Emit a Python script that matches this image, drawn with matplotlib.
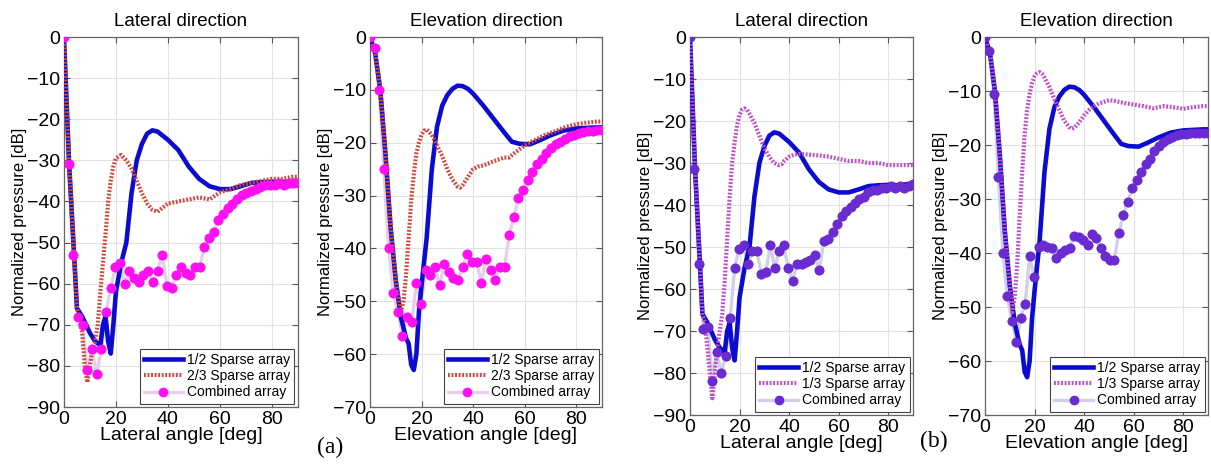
import matplotlib

matplotlib.use("Agg")

import matplotlib.pyplot as plt

# lateral 1/2 sparse array (same curve in (a) and (b))
HALF_LAT_ANGLE = [0, 2, 4, 5, 7, 10, 12, 14, 15, 16, 17, 18, 19, 20, 22, 24, 26, 28, 30, 32, 34, 36,
                  38, 40, 44, 48, 52, 56, 60, 64, 68, 72, 76, 80, 84, 88, 90]
HALF_LAT = [0, -31, -54, -66, -68, -72, -74, -75, -70, -68, -74, -77, -70, -62, -55, -50, -38, -30,
            -26, -23.5, -22.7, -23, -24, -25, -27.5, -31.5, -34.5, -36.3, -37, -37, -36.3, -35.5,
            -35.3, -35.2, -35.3, -35, -35]

# lateral 2/3 sparse array (a)
TWO_LAT_ANGLE = [0, 2, 4, 5, 7, 8, 9, 10, 11, 12, 13, 14, 15, 16, 17, 18, 19, 20, 22, 24, 26, 28,
                 30, 32, 34, 36, 38, 40, 44, 48, 52, 56, 60, 64, 68, 72, 76, 80, 84, 88, 90]
TWO_LAT = [0, -31, -54, -66, -72, -80, -84, -80, -76, -74, -70, -62, -55, -48, -40, -35, -31.5,
           -29.5, -28.7, -30, -32, -35, -38, -40.5, -42, -42.5, -41.5, -40.5, -40, -39.5, -39,
           -39.5, -37.8, -37, -36, -35.5, -35, -34.5, -34.5, -34, -34]

# lateral 1/3 sparse array (b)
THIRD_LAT_ANGLE = [0, 2, 4, 5, 6, 7, 8, 9, 10, 11, 12, 13, 14, 15, 16, 17, 18, 19, 20, 21, 22, 23,
                   24, 26, 28, 30, 32, 34, 36, 37, 38, 40, 42, 44, 48, 52, 56, 60, 64, 68, 72, 76,
                   80, 84, 88, 90]
THIRD_LAT = [0, -31, -54, -66, -68, -74, -80, -86, -80, -74, -70, -66, -58, -48, -38, -30, -25,
             -21, -18.5, -17.3, -17, -17.3, -18.3, -20.5, -23.5, -26.5, -28.5, -30, -30.5, -30.3,
             -29.5, -28.5, -28, -27.8, -28, -28.2, -28.5, -29, -29.5, -29.5, -30, -30, -30.5,
             -30.5, -30.5, -30.5]

# elevation 1/2 sparse array (same curve in (a) and (b))
HALF_ELE_ANGLE = [0, 2, 4, 6, 8, 10, 12, 14, 15, 16, 17, 18, 19, 20, 22, 24, 26, 28, 30, 32, 34,
                  36, 38, 40, 44, 48, 52, 55, 58, 62, 66, 70, 75, 80, 84, 88, 90]
HALF_ELE = [0, -3, -10, -22, -36, -46, -53, -57, -58, -62, -63, -60, -52, -47, -38, -25, -17, -13,
            -11, -9.8, -9.2, -9.3, -9.8, -10.7, -13, -15.5, -18, -19.8, -20.2, -20.3, -19.5,
            -18.6, -17.7, -17.3, -17.2, -17.1, -17.1]

# elevation 2/3 sparse array (a)
TWO_ELE_ANGLE = [0, 2, 4, 6, 8, 10, 12, 13, 14, 15, 16, 17, 18, 19, 20, 21, 22, 24, 26, 28, 30,
                 32, 34, 35, 36, 38, 40, 42, 44, 48, 52, 54, 56, 60, 64, 68, 72, 76, 80, 84, 88, 90]
TWO_ELE = [0, -3, -10, -22, -36, -46, -52, -50, -45, -38, -31, -26, -22, -20, -18.5, -17.7, -17.5,
           -18.5, -20.5, -22.5, -25, -27, -28.3, -28.5, -28, -26.5, -25, -24.5, -24.3, -23.5,
           -22.8, -22.8, -22, -20.5, -19.5, -18.5, -17.8, -17, -16.5, -16.2, -16, -16]

# elevation 1/3 sparse array (b)
THIRD_ELE_ANGLE = [0, 2, 4, 6, 8, 10, 11, 12, 13, 14, 15, 16, 17, 18, 19, 20, 21, 22, 23, 24, 26,
                   28, 30, 32, 34, 35, 36, 38, 40, 42, 44, 46, 48, 50, 52, 56, 60, 64, 68, 72, 76,
                   80, 84, 88, 90]
THIRD_ELE = [0, -3, -10, -22, -36, -46, -51, -48, -42, -33, -25, -18, -13.5, -10.5, -8.5, -7.3,
             -6.7, -6.5, -6.8, -7.5, -9.3, -11.5, -13.5, -15.5, -16.7, -17, -16.8, -15.8, -14.5,
             -13.5, -12.8, -12.3, -12, -11.7, -11.8, -12.2, -12.5, -12.8, -13.2, -12.8, -13,
             -13.3, -13, -12.8, -12.8]

# combined array, sampled on a coarser angle grid
COMB_ANGLE = [0, 1.8, 3.6, 5.4, 7.2, 9, 10.8, 12.6, 14.4, 16.2, 18, 19.8, 21.6, 23.4, 25.2, 27,
              28.8, 30.6, 32.4, 34.2, 36, 37.8, 39.6, 41.4, 43.2, 45, 46.8, 48.6, 50.4, 52.2, 54,
              55.8, 57.6, 59.4, 61.2, 63, 64.8, 66.6, 68.4, 70.2, 72, 73.8, 75.6, 77.4, 79.2, 81,
              82.8, 84.6, 86.4, 88.2, 90]
COMB_LAT_A = [0, -31, -53, -68, -70, -81, -76, -82, -76, -67, -61, -56, -55, -60, -57, -58.5,
              -59.5, -58, -57, -59.5, -57, -53, -60.5, -61, -58, -56, -57.5, -58, -56, -56, -51,
              -49, -47.5, -44.5, -43, -41.5, -40.5, -39.5, -38.5, -38, -37.5, -37, -36.5, -36,
              -36, -36, -35.5, -36, -35.5, -35.5, -35.5]
COMB_ELE_A = [0, -2, -10, -25, -40, -48.5, -52, -56.5, -53, -54, -46.5, -50.5, -44, -45, -43.5,
              -47, -43, -44.5, -45.5, -46, -43.5, -41, -42.5, -42.5, -46.5, -42, -44, -46, -43.5,
              -43.5, -37.5, -34, -30.5, -29, -27, -25.5, -24, -23, -22, -21, -20.3, -19.8, -19.3,
              -18.8, -18.5, -18.2, -18, -17.8, -17.7, -17.6, -17.5]
COMB_LAT_B = [0, -31.5, -54, -69.5, -69, -82, -75, -80, -76, -67, -55, -50.5, -49.5, -54, -51,
              -51, -56.5, -56, -49.5, -55, -51, -49.5, -55, -58, -54, -54, -53.5, -53, -52, -55.5,
              -48.5, -48, -46.5, -44.5, -42.5, -41.5, -40.5, -39.5, -38.5, -38, -37, -36.5,
              -36.5, -36, -36, -35.5, -36, -35.5, -36, -35.5, -35]
COMB_ELE_B = [0, -2.5, -10.5, -26, -40, -48, -52.5, -56.5, -52, -49.5, -40.5, -44.5, -38.8, -38.5,
              -38.8, -39, -41, -40, -39.5, -39, -36.8, -37, -37.6, -38.5, -36.5, -37.3, -39,
              -40.5, -41.3, -41.3, -36.2, -33, -30.5, -28, -26.5, -25, -23.5, -22.5, -21.2, -20.2,
              -19.5, -18.9, -18.5, -18.2, -18, -17.9, -17.8, -17.8, -17.7, -17.7, -17.7]

BLUE = "#0c0cd0"
FONT = ["Liberation Sans", "DejaVu Sans"]

plt.rcParams["font.family"] = FONT


def draw_panel(ax, title, xlabel, ymin, half, other, comb, other_label, other_color,
               comb_color, comb_line):
    # combined line sits under the sparse curves, its markers on top
    ax.plot(COMB_ANGLE, comb, color=comb_line, lw=2.4, marker="o", ms=6,
            mfc=comb_color, mec=comb_color, label="Combined array", zorder=2)
    ax.plot(half[0], half[1], color=BLUE, lw=3.3, label="1/2 Sparse array", zorder=3)
    ax.plot(other[0], other[1], color=other_color, lw=3.0, ls=(0, (0.45, 0.4)),
            label=other_label, zorder=4)
    ax.plot(COMB_ANGLE, comb, ls="none", marker="o", ms=6, mfc=comb_color, mec=comb_color,
            zorder=5)

    ax.set_xlim(0, 90)
    ax.set_ylim(ymin, 0)
    ax.set_xticks([0, 20, 40, 60, 80])
    ax.set_yticks(range(ymin, 1, 10))
    ax.grid(True, color="#e2e2e2", lw=0.8)
    ax.set_axisbelow(True)
    ax.tick_params(direction="in", top=True, right=True, length=4, labelsize=14,
                   color="#555555", pad=3)
    for s in ax.spines.values():
        s.set_color("#666666")
        s.set_linewidth(0.9)

    ax.set_title(title, fontsize=13.5, pad=8)
    ax.set_xlabel(xlabel, fontsize=14, labelpad=-1)
    ax.set_ylabel("Normalized pressure [dB]", fontsize=12, labelpad=0)

    handles, labels = ax.get_legend_handles_labels()
    order = [1, 2, 0]
    leg = ax.legend([handles[i] for i in order], [labels[i] for i in order],
                    loc="lower right", fontsize=10, handlelength=2.8, handletextpad=0.3,
                    borderaxespad=0.25, borderpad=0.3, labelspacing=0.15, fancybox=False,
                    framealpha=1)
    leg.get_frame().set_edgecolor("#444444")
    leg.get_frame().set_linewidth(0.8)


fig = plt.figure(figsize=(12.11, 4.68), dpi=100)

ax1 = fig.add_axes([0.0528, 0.1303, 0.1932, 0.7906])
ax2 = fig.add_axes([0.3055, 0.1303, 0.1916, 0.7906])
ax3 = fig.add_axes([0.5698, 0.1132, 0.1841, 0.8077])
ax4 = fig.add_axes([0.8134, 0.1132, 0.1841, 0.8077])

red = "#d0483e"
pink = "#c04ec8"

draw_panel(ax1, "Lateral direction", "Lateral angle [deg]", -90,
           (HALF_LAT_ANGLE, HALF_LAT), (TWO_LAT_ANGLE, TWO_LAT), COMB_LAT_A,
           "2/3 Sparse array", red, "#ff10f0", "#e6cfe8")
draw_panel(ax2, "Elevation direction", "Elevation angle [deg]", -70,
           (HALF_ELE_ANGLE, HALF_ELE), (TWO_ELE_ANGLE, TWO_ELE), COMB_ELE_A,
           "2/3 Sparse array", red, "#ff10f0", "#e6cfe8")
draw_panel(ax3, "Lateral direction", "Lateral angle [deg]", -90,
           (HALF_LAT_ANGLE, HALF_LAT), (THIRD_LAT_ANGLE, THIRD_LAT), COMB_LAT_B,
           "1/3 Sparse array", pink, "#6a2cd0", "#d2d0e8")
draw_panel(ax4, "Elevation direction", "Elevation angle [deg]", -70,
           (HALF_ELE_ANGLE, HALF_ELE), (THIRD_ELE_ANGLE, THIRD_ELE), COMB_ELE_B,
           "1/3 Sparse array", pink, "#6a2cd0", "#d2d0e8")

fig.text(317 / 1211, 1 - 447 / 468, "(a)", family=["Liberation Serif", "DejaVu Serif"],
         fontsize=17, va="center", ha="left")
fig.text(920 / 1211, 1 - 441 / 468, "(b)", family=["Liberation Serif", "DejaVu Serif"],
         fontsize=17, va="center", ha="left")

fig.savefig("out.png", dpi=100)
